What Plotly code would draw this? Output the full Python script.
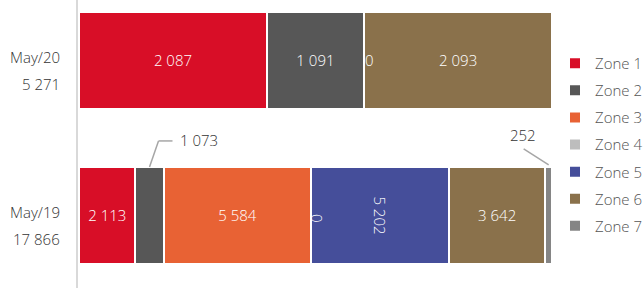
import plotly.graph_objects as go

categories = ["May/20", "May/19"]
totals = [5271, 17866]
zone_names = ["Zone 1", "Zone 2", "Zone 3", "Zone 4", "Zone 5", "Zone 6", "Zone 7"]
zone1 = [2087, 2113]
zone2 = [1091, 1073]
zone3 = [None, 5584]
zone4 = [0, 0]
zone5 = [None, 5202]
zone6 = [2093, 3642]
zone7 = [None, 252]
zone_colors = ["#D80E27", "#575757", "#E86234", "#BDBDBD", "#454E9A", "#8A714B", "#858585"]

zones = [zone1, zone2, zone3, zone4, zone5, zone6, zone7]
FONT = "Open Sans"
FS = 15


def fmt(v):
    return f"{v:,}".replace(",", " ")


def pct(v, t):
    return None if v is None or v == 0 else v / t * 100


outside = {(1, 1), (6, 1)}
rotated = {4}

fig = go.Figure()
for zi, (name, vals, col) in enumerate(zip(zone_names, zones, zone_colors)):
    xs = [pct(v, t) for v, t in zip(vals, totals)]
    texts = []
    for ci, v in enumerate(vals):
        if v is None or v == 0 or (zi, ci) in outside:
            texts.append("")
        else:
            texts.append(fmt(v))
    fig.add_trace(go.Bar(
        y=categories, x=xs, name=name, orientation="h",
        marker=dict(color=col, line=dict(color="white", width=2)),
        text=texts, textposition="inside", insidetextanchor="middle",
        textangle=90 if zi in rotated else 0,
        textfont=dict(color="white", size=FS, family=FONT, weight=300),
        legendgroup=name, hoverinfo="skip", width=0.626,
    ))

BAR_HALF = 0.313
annotations = []
shapes = []

for ci, (cat, tot) in enumerate(zip(categories, totals)):
    annotations.append(dict(xref="paper", yref="y", x=-16 / 565, y=ci, xanchor="right",
                            yanchor="middle", text=cat, showarrow=False, yshift=3,
                            font=dict(size=FS, color="#333", family=FONT, weight=300)))
    annotations.append(dict(xref="paper", yref="y", x=-16 / 565, y=ci, xanchor="right",
                            yanchor="middle", text=fmt(tot), showarrow=False, yshift=-24,
                            font=dict(size=FS, color="#333", family=FONT, weight=300)))


def cum_before(zi, ci):
    s = 0
    for k in range(zi):
        v = zones[k][ci]
        s += v or 0
    return s


for zi, vals in enumerate(zones):
    for ci, v in enumerate(vals):
        if v == 0:
            xpos = cum_before(zi, ci) / totals[ci] * 100
            annotations.append(dict(
                xref="x", yref="y", x=xpos, y=ci, text="0", showarrow=False,
                xanchor="center", yanchor="middle",
                xshift=5, textangle=90 if ci == 1 else 0, yshift=-3 if ci == 1 else 0,
                font=dict(size=FS, color="white", family=FONT, weight=300)))

leaders = {
    (1, 1): dict(text_dx=49, text_dy=27, pts=[(0, 0), (9, 26), (23, 26)]),
    (6, 1): dict(text_dx=-26, text_dy=32, pts=[(0, 2), (-25, 18)]),
}
for (zi, ci), spec in leaders.items():
    v = zones[zi][ci]
    center = (cum_before(zi, ci) + v / 2) / totals[ci] * 100
    ytop = ci - BAR_HALF
    annotations.append(dict(xref="x", yref="y", x=center, y=ytop, text=fmt(v),
                            showarrow=False, xshift=spec["text_dx"], yshift=spec["text_dy"],
                            xanchor="center", yanchor="middle",
                            font=dict(size=FS, color="#333", family=FONT, weight=300)))
    pts = spec["pts"]
    for (ax0, ay0), (ax1, ay1) in zip(pts[:-1], pts[1:]):
        shapes.append(dict(type="line", xref="x", yref="y",
                           xsizemode="pixel", ysizemode="pixel",
                           xanchor=center, yanchor=ytop,
                           x0=ax0, x1=ax1, y0=ay0, y1=ay1,
                           line=dict(color="#A6A6A6", width=1.5)))

fig.update_layout(
    width=643, height=288,
    margin=dict(l=78, r=0, t=0, b=0, autoexpand=False),
    paper_bgcolor="white", plot_bgcolor="white",
    barmode="stack", bargap=0.374,
    showlegend=True,
    legend=dict(x=(555 - 78) / 565, xanchor="left", y=1 - 47 / 288, yanchor="top",
                font=dict(size=FS, color="#555", family=FONT, weight=300),
                tracegroupgap=4.6, bgcolor="rgba(0,0,0,0)"),
    xaxis=dict(domain=[0, 474 / 565], range=[-0.3, 100], visible=False, fixedrange=True),
    yaxis=dict(type="category", range=[1.468, -0.39], showticklabels=False,
               showgrid=False, zeroline=False, showline=True, linecolor="#D9D9D9",
               linewidth=2, ticks="", fixedrange=True),
    annotations=annotations, shapes=shapes,
    font=dict(family=FONT),
)

fig.write_html("out.html", config={"displayModeBar": False, "staticPlot": True},
               post_script="document.body.style.margin='0';document.body.style.overflow='hidden';")
